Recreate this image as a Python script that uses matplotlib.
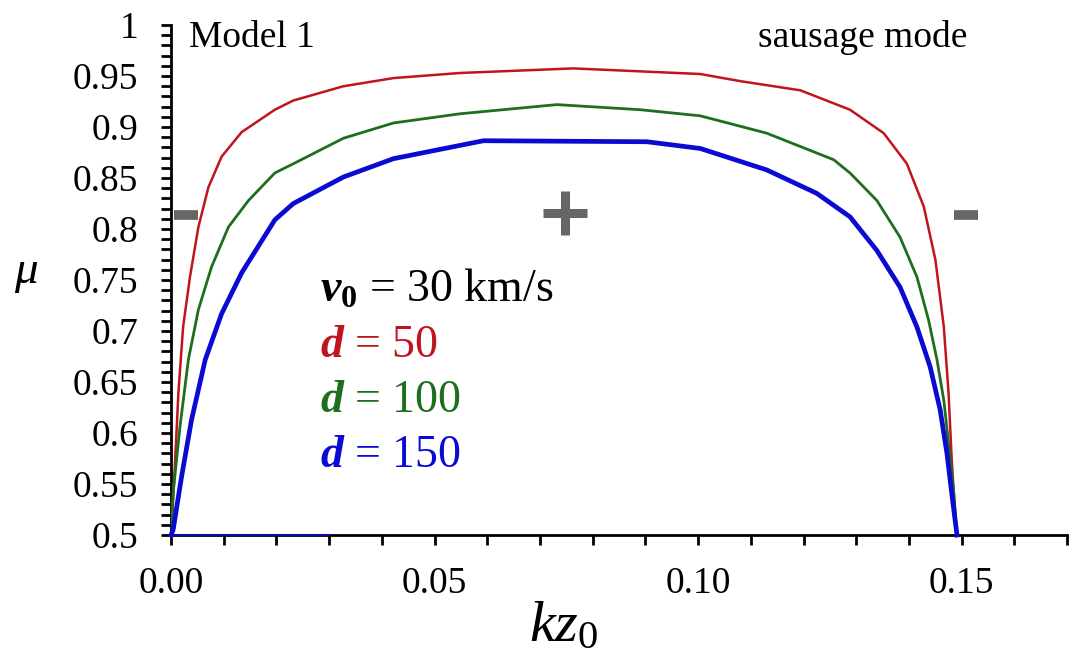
import matplotlib
matplotlib.use("Agg")
import matplotlib.pyplot as plt
from matplotlib.ticker import MultipleLocator, FuncFormatter

plt.rcParams['font.family'] = ['Liberation Serif', 'DejaVu Serif']
plt.rcParams['mathtext.fontset'] = 'custom'
plt.rcParams['mathtext.rm'] = 'Liberation Serif'
plt.rcParams['mathtext.it'] = 'Liberation Serif:italic'
plt.rcParams['mathtext.bf'] = 'Liberation Serif:bold'
plt.rcParams['mathtext.bfit'] = 'Liberation Serif:bold:italic'

# mu(kz0) for v0 = 30 km/s, three values of d
kz_50 = [0.0, 0.0001, 0.0008, 0.0014, 0.0023, 0.0036, 0.0052, 0.0071, 0.0096, 0.0134,
         0.0197, 0.0232, 0.0327, 0.0422, 0.0548, 0.0763, 0.1004, 0.108, 0.1194, 0.1288,
         0.1352, 0.1396, 0.1428, 0.145, 0.1466, 0.1475, 0.1481, 0.1488, 0.1491]
mu_50 = [0.5, 0.505, 0.574, 0.639, 0.704, 0.753, 0.802, 0.841, 0.871, 0.895,
         0.917, 0.926, 0.940, 0.948, 0.953, 0.9575, 0.952, 0.945, 0.936, 0.917,
         0.894, 0.864, 0.822, 0.770, 0.704, 0.639, 0.574, 0.515, 0.5]

kz_100 = [0.0, 0.0004, 0.0017, 0.0033, 0.0052, 0.0077, 0.0109, 0.0147, 0.0197, 0.0232,
          0.0327, 0.0422, 0.0548, 0.0732, 0.089, 0.1004, 0.113, 0.1257, 0.1288, 0.1339,
          0.1383, 0.1415, 0.1437, 0.1453, 0.1466, 0.1475, 0.1485, 0.1491]
mu_100 = [0.5, 0.541, 0.606, 0.672, 0.721, 0.763, 0.802, 0.828, 0.855, 0.864,
          0.889, 0.904, 0.913, 0.922, 0.917, 0.911, 0.894, 0.868, 0.855, 0.828,
          0.792, 0.753, 0.711, 0.672, 0.632, 0.590, 0.541, 0.5]

kz_150 = [0.0, 0.0004, 0.002, 0.0039, 0.0065, 0.0096, 0.0134, 0.0197, 0.0232,
          0.0327, 0.0422, 0.0548, 0.0593, 0.0903, 0.1004, 0.113, 0.1225, 0.1288, 0.1339,
          0.1383, 0.1415, 0.144, 0.1459, 0.1472, 0.1481, 0.1491]
mu_150 = [0.5, 0.505, 0.557, 0.613, 0.672, 0.717, 0.757, 0.809, 0.825,
          0.851, 0.869, 0.882, 0.8866, 0.8856, 0.879, 0.858, 0.835, 0.812, 0.779,
          0.743, 0.704, 0.665, 0.623, 0.580, 0.541, 0.5]
# short run of the d = 150 branch lying on mu = 0.5
kz_150_base = [0.0, 0.03]
mu_150_base = [0.5, 0.5]

red = '#c0141e'
green = '#1e6e1e'
blue = '#0a0ad2'
gray = '#666666'

fig = plt.figure(figsize=(10.72, 6.68), dpi=100)
ax = fig.add_axes([0.1595, 0.199, 0.836, 0.7635])

ax.plot(kz_50, mu_50, color=red, lw=1.8, zorder=3, solid_joinstyle='round')
ax.plot(kz_100, mu_100, color=green, lw=2.0, zorder=3, solid_joinstyle='round')
ax.plot(kz_150, mu_150, color=blue, lw=3.4, zorder=3, clip_on=False, solid_joinstyle='round')
ax.plot(kz_150_base, mu_150_base, color=blue, lw=1.5, alpha=0.8, zorder=3, clip_on=False)

ax.set_xlim(0, 0.17)
ax.set_ylim(0.5, 1.0)
for s in ['top', 'right']:
    ax.spines[s].set_visible(False)
for s in ['left', 'bottom']:
    ax.spines[s].set_linewidth(2)

ax.xaxis.set_major_locator(MultipleLocator(0.05))
ax.xaxis.set_minor_locator(MultipleLocator(0.01))
ax.yaxis.set_major_locator(MultipleLocator(0.05))
ax.yaxis.set_minor_locator(MultipleLocator(0.01))
ax.xaxis.set_major_formatter(FuncFormatter(lambda v, p: '%.2f' % v))
ax.yaxis.set_major_formatter(FuncFormatter(lambda v, p: '%g' % round(v, 2)))
ax.tick_params(which='both', direction='out', width=2, length=7.5, labelsize=27, colors='black')
ax.tick_params(axis='y', which='major', pad=16)
ax.tick_params(axis='x', which='major', pad=15)

ax.set_ylabel(r'$\mu$', fontsize=34, rotation=0)
ax.yaxis.set_label_coords(-0.162, 0.47)
ax.set_xlabel(r'$kz_0$', fontsize=42)
ax.xaxis.set_label_coords(0.438, -0.13)

ax.text(0.0035, 0.988, 'Model 1', fontsize=27, va='center', ha='left')
ax.text(0.151, 0.988, 'sausage mode', fontsize=27, va='center', ha='right')

# sign markers for the two outer bands and the middle band
ax.plot([0.0028, 0.1508], [0.814, 0.814], ls='none', marker='_', ms=17, mew=7,
        color=gray, zorder=4)
ax.plot([0.0748], [0.816], ls='none', marker='+', ms=31, mew=6.5, color=gray, zorder=4)

ax.text(0.0283, 0.740, r'$\mathbfit{v}_{\mathbf{0}}$ = 30 km/s', fontsize=33,
        color='black', va='center')
ax.text(0.0283, 0.686, r'$\mathbfit{d}$ = 50', fontsize=33, color=red, va='center')
ax.text(0.0283, 0.632, r'$\mathbfit{d}$ = 100', fontsize=33, color=green, va='center')
ax.text(0.0283, 0.578, r'$\mathbfit{d}$ = 150', fontsize=33, color=blue, va='center')

fig.savefig('out.png', dpi=100)
